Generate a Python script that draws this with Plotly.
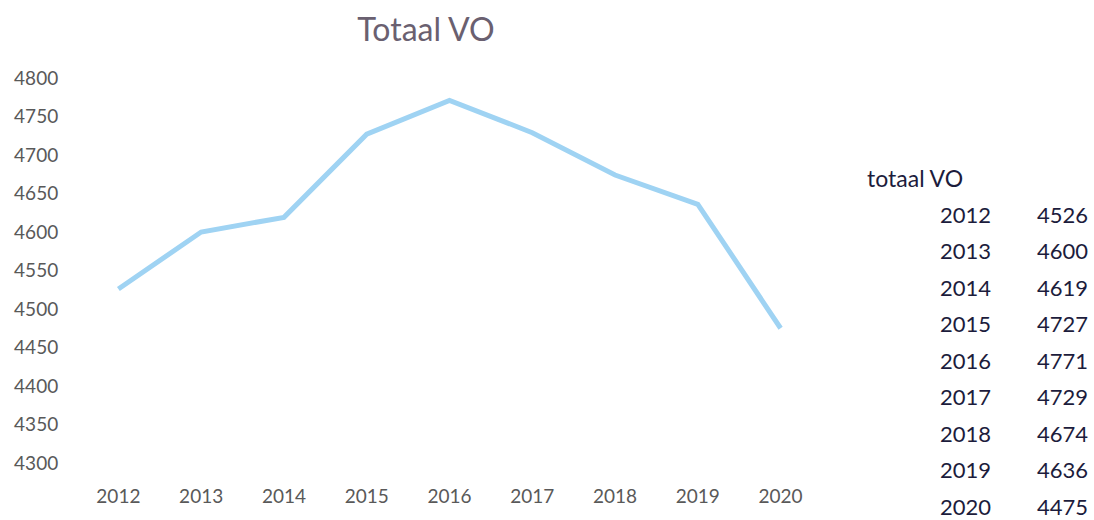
import plotly.graph_objects as go

years = [2012, 2013, 2014, 2015, 2016, 2017, 2018, 2019, 2020]
values = [4526, 4600, 4619, 4727, 4771, 4729, 4674, 4636, 4475]
y_ticks = [4300, 4350, 4400, 4450, 4500, 4550, 4600, 4650, 4700, 4750, 4800]
table_title = "totaal VO"
chart_title = "Totaal VO"

W, H = 1094, 520
L, R, T, B = 77, 272, 78, 57
font_fam = "Lato, Open Sans, sans-serif"

fig = go.Figure()
fig.add_trace(go.Scatter(
    x=years, y=values, mode="lines",
    line=dict(color="#9fd3f3", width=5),
    hoverinfo="x+y",
))

fig.update_layout(
    width=W, height=H,
    margin=dict(l=L, r=R, t=T, b=B),
    paper_bgcolor="white", plot_bgcolor="white",
    showlegend=False,
    title=dict(text=chart_title, x=426 / W, xanchor="center", y=1 - 30 / H, yanchor="middle",
               font=dict(family=font_fam, size=32, color="#6a6070")),
    font=dict(family=font_fam),
)
fig.update_xaxes(
    range=[2011.5, 2020.5], tickvals=years, ticktext=[str(y) for y in years],
    showgrid=False, zeroline=False, showline=False,
    ticks="outside", ticklen=16, tickcolor="rgba(0,0,0,0)",
    tickfont=dict(size=19, color="#595959"),
)
fig.update_yaxes(
    range=[4300, 4800], tickvals=y_ticks, ticktext=[str(v) for v in y_ticks],
    showgrid=False, zeroline=False, showline=False,
    ticks="outside", ticklen=14, tickcolor="rgba(0,0,0,0)",
    tickfont=dict(size=19, color="#595959"),
)

pw = W - L - R
ph = H - T - B
fig.add_annotation(text=table_title, xref="paper", yref="paper",
                   x=(865 - L) / pw, y=1 - (178 - T) / ph,
                   xanchor="left", yanchor="middle", showarrow=False,
                   font=dict(family=font_fam, size=23, color="#1c1c3c"))
row_y0, row_dy = 214, 36.5
for i, (yr, v) in enumerate(zip(years, values)):
    ypix = row_y0 + i * row_dy
    yp = 1 - (ypix - T) / ph
    fig.add_annotation(text=str(yr), xref="paper", yref="paper",
                       x=(993 - L) / pw, y=yp, xanchor="right", yanchor="middle",
                       showarrow=False, font=dict(family=font_fam, size=22, color="#1c1c3c"))
    fig.add_annotation(text=str(v), xref="paper", yref="paper",
                       x=(1090 - L) / pw, y=yp, xanchor="right", yanchor="middle",
                       showarrow=False, font=dict(family=font_fam, size=22, color="#1c1c3c"))

fig.write_html("out.html", config={"displayModeBar": False},
               post_script="document.body.style.margin='0';document.body.style.overflow='hidden';")
